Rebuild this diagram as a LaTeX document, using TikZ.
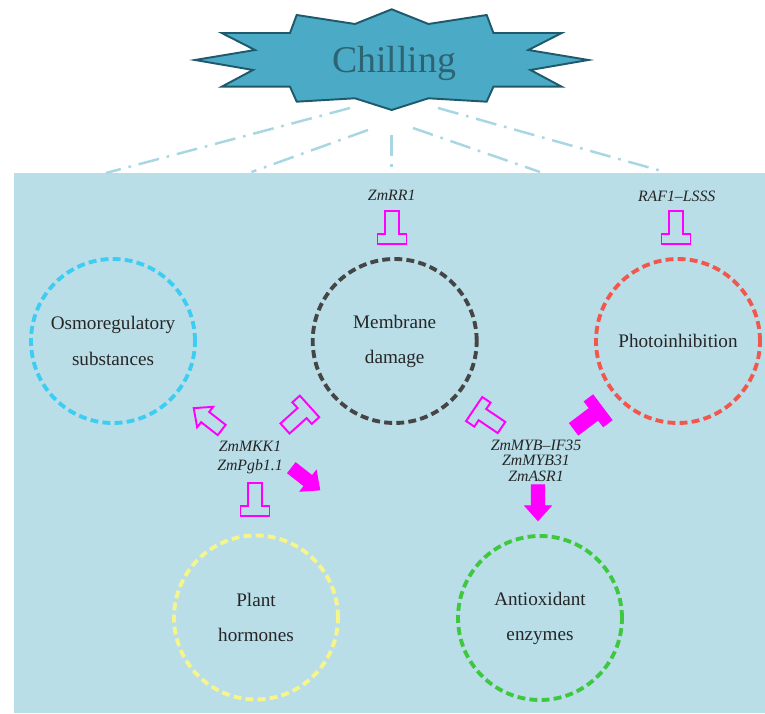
\documentclass[tikz,border=0pt]{standalone}
\usepackage{fontspec}
\setmainfont{Liberation Serif}
\usetikzlibrary{positioning,calc}
\definecolor{Sky}{HTML}{B9DEE8}
\definecolor{StarF}{HTML}{4BAAC5}
\definecolor{StarD}{HTML}{1E5A6C}
\definecolor{Ink}{HTML}{2C6474}
\definecolor{Ray}{HTML}{A8D6E3}
\definecolor{Mag}{HTML}{FF00FF}
\definecolor{COsmo}{HTML}{3DCDF2}
\definecolor{CMem}{HTML}{454545}
\definecolor{CPho}{HTML}{F2574E}
\definecolor{CHor}{HTML}{F6F58C}
\definecolor{CAnt}{HTML}{3FC83F}
\tikzset{
  ring/.style={circle,draw,dash pattern=on 4.5pt off 2.4pt,line width=2.2pt,minimum size=3.28cm,align=center,text=black!85,font=\fontsize{10.9}{20}\selectfont},
  gene/.style={align=center,inner sep=0pt,text=black!85,font=\fontsize{9}{8.8}\selectfont\itshape},
  ray/.style={Ray,line width=1.4pt,dash pattern=on 12pt off 4.5pt on 1.5pt off 4.5pt},
  hollow/.style={draw=Mag,line width=1.1pt},
  magfill/.style={draw=Mag,fill=Mag,line width=.6pt},
  tblock/.pic={\path[pic actions] (0,-.135) -- (.46,-.135) -- (.46,-.29) -- (.66,-.29) -- (.66,.29) -- (.46,.29) -- (.46,.135) -- (0,.135) -- cycle;},
  barrow/.pic={\path[pic actions] (0,-.13) -- (.42,-.13) -- (.42,-.26) -- (.71,0) -- (.42,.26) -- (.42,.13) -- (0,.13) -- cycle;}
}

\begin{document}
\begin{tikzpicture}
\useasboundingbox (0,0) rectangle (15.3,14.26);
\fill[Sky] (0.28,0) rectangle (15.3,10.8);
% star
\draw[StarD,fill=StarF,line width=1.1pt,shift={(7.834,13.06)}] (0,1.014) -- (-.734,.72) -- (-1.9,.9) -- (-2.034,.54) -- (-3.4,.54) -- (-2.734,.2) -- (-3.934,0) -- (-2.774,-.2) -- (-3.4,-.534) -- (-2.034,-.534) -- (-1.9,-.834) -- (-.734,-.766) -- (0,-1.0) -- (.734,-.766) -- (1.9,-.834) -- (2.034,-.534) -- (3.4,-.534) -- (2.774,-.2) -- (3.934,0) -- (2.734,.2) -- (3.4,.54) -- (2.034,.54) -- (1.9,.9) -- (.734,.72) -- cycle;
\node[anchor=base,text=Ink,font=\fontsize{21.5}{24}\selectfont] (chill) at (7.88,12.8) {Chilling};
% rays
\coordinate (s1) at (7.0,12.1);  \coordinate (b1) at (2.12,10.8);
\coordinate (s2) at (7.36,11.66); \coordinate (b2) at (5.03,10.82);
\coordinate (s3) at (7.834,11.56); \coordinate (b3) at (7.834,10.82);
\coordinate (s4) at (8.26,11.7); \coordinate (b4) at (10.8,10.82);
\coordinate (s5) at (8.76,12.1); \coordinate (b5) at (13.3,10.82);
\foreach \i in {1,...,5} \draw[ray] (s\i) -- (b\i);
% circles
\node[ring,draw=COsmo] (osmo) at (2.26,7.44) {Osmoregulatory\\substances};
\node[ring,draw=CMem] (mem) at (7.894,7.44) {Membrane\\damage};
\node[ring,draw=CPho] (photo) at (13.56,7.44) {Photoinhibition};
\node[ring,draw=CHor] (horm) at (5.12,1.91) {Plant\\hormones};
\node[ring,draw=CAnt] (anti) at (10.8,1.9) {Antioxidant\\enzymes};
% genes
\node[gene] (rr) at (7.834,10.36) {ZmRR1};
\node[gene] (raf) at (13.534,10.34) {RAF1--LSSS};
\node[gene,font=\fontsize{9}{10.4}\selectfont\itshape] (mkk) at (5.0,5.11) {ZmMKK1\\ZmPgb1.1};
\node[gene] (myb) at (10.72,5.05) {ZmMYB--IF35\\ZmMYB31\\ZmASR1};
% symbols
\pic[hollow,rotate=-90] at (7.84,10.04) {tblock};
\pic[hollow,rotate=-90] at (13.52,10.04) {tblock};
\pic[hollow,rotate=42] at (5.70,5.69) {tblock};
\pic[hollow,rotate=146] at (10.03,5.71) {tblock};
\pic[magfill,rotate=37,scale=1.08] at (11.48,5.68) {tblock};
\pic[hollow,rotate=-90] at (5.10,4.60) {tblock};
\pic[hollow,rotate=142] at (4.434,5.66) {barrow};
\pic[magfill,rotate=-38] at (5.834,4.90) {barrow};
\pic[magfill,rotate=-90] at (10.76,4.56) {barrow};
\end{tikzpicture}
\end{document}
